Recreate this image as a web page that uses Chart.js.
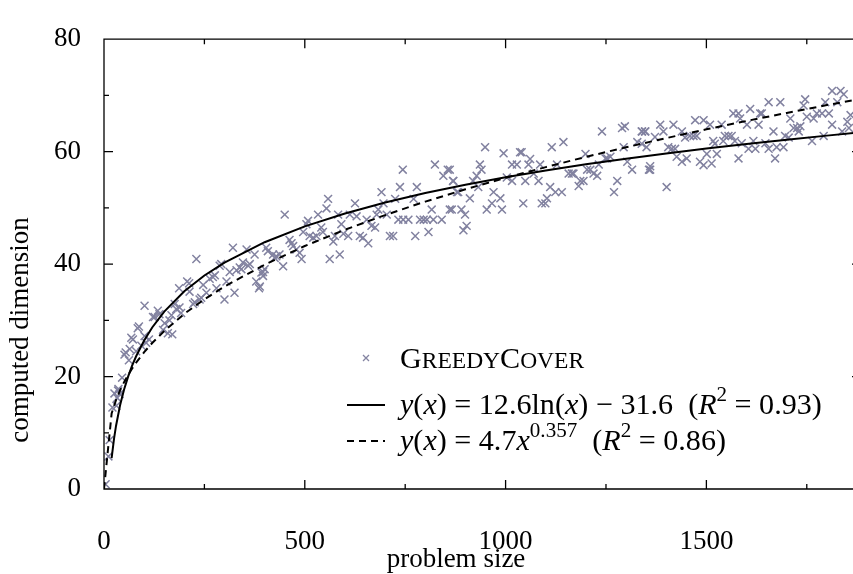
<!DOCTYPE html>
<html><head><meta charset="utf-8">
<script src="https://cdn.jsdelivr.net/npm/chart.js@4.4.1/dist/chart.umd.min.js"></script>
<style>html,body{margin:0;padding:0;overflow:hidden;background:#fff;width:853px;height:574px}canvas{display:block}</style>
</head><body>
<canvas id="c" width="872" height="574"></canvas>
<script>
const greedyX=[4,11,14,21,26,31,33,35,36,39,45,51,54,62,64,68,72,80,84,87,93,101,101,105,112,122,126,134,138,147,151,159,163,168,170,176,180,187,188,192,207,212,213,222,226,230,238,242,247,255,263,271,276,280,288,292,300,305,313,321,325,330,338,342,346,355,359,363,375,379,386,396,400,404,
388,392,396,408,421,425,429,437,446,450,462,467,471,479,487,492,496,504,508,512,521,529,533,541,545,554,558,562,571,575,583,587,591,596,608,612,625,629,637,645,654,658,666,675,679,683,691,696,704,712,720,725,733,737,744,745,758,771,775,779,787,796,804,808,816,820,824,841,845,856,866,870,879,
861,869,861,882,890,899,895,903,911,919,928,936,940,932,949,953,966,970,987,991,995,1003,1016,1028,1016,1036,1040,1049,1057,1061,1044,1070,1082,1086,1090,1099,1103,1111,1115,1128,1124,1140,1144,1157,1165,1169,1182,1186,1194,1199,1203,1211,1219,1228,1232,1249,1253,1261,1270,1278,1240,1290,1297,1294,1303,1315,1328,1340,1348,1357,
1339,1347,1339,1351,1360,1360,1372,1385,1393,1401,1405,1418,1414,1422,1426,1439,1439,1447,1451,1459,1468,1476,1472,1484,1493,1493,1501,1509,1513,1517,1521,1526,1538,1542,1546,1555,1563,1567,1571,1580,1580,1584,1588,1601,1609,1605,1622,1617,1630,1634,1638,1647,1655,1655,1667,1671,1675,1684,1692,1696,1705,1709,1717,1726,1730,1734,1742,1746,1750,1763,1767,1775,1788,1792,1796,1805,1813,1813,1826,1834,1838,1842,1851,1855,1859];
const greedyY=[0.85,5.8,8.7,14.5,17,14.8,16.2,17.5,17.8,16.9,19.8,23.9,24.3,22.9,24.9,26.9,26.6,24.5,28.6,28.9,25.5,27.2,32.6,26,26.6,30.6,30.6,31.7,31.1,28.3,29.5,27.7,30,30.9,27.5,32.9,32,35.7,32.3,31.3,36.9,36.6,35.1,32.9,33.2,40.9,33.7,34,36.3,34.9,37.4,37.7,38,35.7,39.7,40,33.7,36.9,38.6,42.9,34.9,38.9,39.4,39.1,40.3,42.6,39.7,40,41.7,36.9,35.7,38.6,39.1,42.9,
36,38.5,37.9,42.3,41.7,41.1,41.4,41.7,39.6,48.8,44.3,43.7,43.2,42.6,42,40.9,45.7,47.1,47.7,45,44.7,45,48.8,46.5,45.7,49.9,51.6,40.9,44,45,48.8,41.7,47.1,45.4,45,48.8,50.8,48.5,45,44.7,47.9,43.7,46.8,46.5,48.8,49.7,52.8,50.8,48.8,45,45,51.6,47.9,53.7,56.8,47.9,47.9,51.6,45,53.7,47.9,47.9,47.9,45.7,49.7,47.9,57.7,47.9,55.7,56.8,49.7,54.8,52.8,
56.8,54.8,49.7,52.8,49.7,48.8,46,46.8,51.7,54.8,55.7,57.7,56.8,53.7,60.8,49.7,50.8,52.8,51.7,49.7,59.7,55.4,57.7,57.7,54.8,59.9,59.9,54.8,57.7,58.7,50.8,56.1,54.8,57.7,50.8,50.8,51.7,53.7,60.8,57.7,52.8,52.8,61.7,56.1,56.1,56.1,53.9,54.8,54.8,59.6,56.8,56.8,56.1,55.7,57.7,58.8,58.8,59.1,52.8,54.8,63.6,64.2,64.5,60.8,58.2,56.8,61.7,63.6,63.6,56.8,
63.6,63.6,61.4,60.8,57.4,56.8,62.6,64.8,63.6,53.7,60.8,64.8,60.5,60.5,59.1,63.6,58.2,62.5,58.8,62.8,62.8,62.8,65.6,58.2,65.6,57.6,59.6,64.8,57.9,61.9,61.4,59.6,64.8,61.9,62.8,62.8,62.8,66.8,61.9,58.8,66.8,65.9,61.5,64.8,67.6,60.5,60.5,61.9,64.8,66.8,66.8,61.5,68.8,60.5,63.6,58.8,60.8,68.8,60.8,62.8,62.5,65.9,64.2,64.2,63.6,64.5,68.2,69.3,66.2,61.9,65.9,66.8,66.8,62.8,68.8,66.8,70.8,64.8,68.8,70.8,63.6,70.2,65.3,64.2,66.5];

const lnFitX=[19,25,30,40,50,60,70,80,100,120,150,200,250,300,400,500,600,700,800,900,1000,1100,1200,1300,1400,1500,1600,1700,1800,1885];
const lnFitY=[5.5,8.96,11.26,14.88,17.69,19.99,21.93,23.61,26.42,28.73,31.54,35.16,37.97,40.27,43.89,46.71,49.0,50.94,52.63,54.11,55.44,56.64,57.74,58.74,59.68,60.55,61.36,62.12,62.85,63.43];
const powFitX=[0,19,30,40,50,60,70,80,100,120,150,200,250,300,400,500,600,700,800,900,1000,1100,1200,1300,1400,1500,1600,1700,1800,1885];
const powFitY=[0,13.45,15.83,17.54,19.0,20.27,21.42,22.47,24.33,25.96,28.12,31.16,33.74,36.01,39.9,43.22,46.12,48.72,51.12,53.3,55.35,57.25,59.07,60.77,62.41,63.97,65.46,66.89,68.28,69.4];

const xTickLabels=['0','500','1000','1500'];
const yTickLabels=['0','20','40','60','80'];
const axisTitles=['problem size','computed dimension'];
const seriesNames=['GreedyCover','y(x) = 12.6ln(x) − 31.6 (R² = 0.93)','y(x) = 4.7x^0.357 (R² = 0.86)'];
const FAM='"Liberation Serif", "Times New Roman", serif';

const frameTicks={id:'frameTicks',afterDraw(chart){
  const {ctx,chartArea:a,scales:{x,y}}=chart;
  ctx.save();
  ctx.strokeStyle='#000';ctx.lineWidth=1.3;ctx.lineCap='butt';
  ctx.beginPath();
  ctx.moveTo(a.left,a.top);ctx.lineTo(a.right,a.top);ctx.lineTo(a.right,a.bottom);ctx.lineTo(a.left,a.bottom);ctx.closePath();
  x.ticks.forEach(t=>{const p=x.getPixelForValue(t.value);const L=(t.value%500===0)?9:5;
    ctx.moveTo(p,a.bottom);ctx.lineTo(p,a.bottom-L);ctx.moveTo(p,a.top);ctx.lineTo(p,a.top+L);});
  y.ticks.forEach(t=>{const p=y.getPixelForValue(t.value);const L=(t.value%20===0)?9:5;
    ctx.moveTo(a.left,p);ctx.lineTo(a.left+L,p);ctx.moveTo(a.right,p);ctx.lineTo(a.right-L,p);});
  ctx.stroke();
  ctx.fillStyle='#000';ctx.font='27px '+FAM;ctx.textAlign='center';ctx.textBaseline='middle';
  ctx.fillText(axisTitles[0],456,560);
  ctx.save();ctx.translate(21,330);ctx.rotate(-Math.PI/2);ctx.fillText(axisTitles[1],0,0);ctx.restore();
  ctx.restore();
}};

function rich(ctx,segs,x,base,F,draw){
  let cx=x;
  for(const s of segs){
    const size=s.sup?F*0.7:(s.sc?F*0.78:F);
    ctx.font=(s.i?'italic ':'')+size.toFixed(2)+'px '+FAM;
    const dy=s.sup?-F*0.42:0;
    if(draw)ctx.fillText(s.t,cx,base+dy);
    cx+=ctx.measureText(s.t).width;
  }
  return cx-x;
}
const mathLegend={id:'mathLegend',afterDraw(chart){
  const ctx=chart.ctx;
  ctx.save();ctx.fillStyle='#000';ctx.textBaseline='alphabetic';ctx.textAlign='left';
  const r0=[{t:'G'},{t:'REEDY',sc:1},{t:'C'},{t:'OVER',sc:1}];
  const r1=[{t:'y',i:1},{t:'('},{t:'x',i:1},{t:') = 12.6ln('},{t:'x',i:1},{t:') − 31.6  ('},{t:'R',i:1},{t:'2',sup:1},{t:' = 0.93)'}];
  const r2=[{t:'y',i:1},{t:'('},{t:'x',i:1},{t:') = 4.7'},{t:'x',i:1},{t:'0.357',sup:1},{t:'  ('},{t:'R',i:1},{t:'2',sup:1},{t:' = 0.86)'}];
  const w=rich(ctx,r1,0,0,24,false);
  const F=24*422/w;
  const tx=400;
  rich(ctx,r0,tx,368,F,true);
  rich(ctx,r1,tx,414,F,true);
  rich(ctx,r2,tx,450,F,true);
  ctx.strokeStyle='#8484a2';ctx.lineWidth=1.3;
  const mx=366,my=358,h=3;
  ctx.beginPath();ctx.moveTo(mx-h,my-h);ctx.lineTo(mx+h,my+h);ctx.moveTo(mx-h,my+h);ctx.lineTo(mx+h,my-h);ctx.stroke();
  ctx.strokeStyle='#000';ctx.lineWidth=2;
  ctx.beginPath();ctx.moveTo(347,405);ctx.lineTo(385,405);ctx.stroke();
  ctx.setLineDash([7,5]);
  ctx.beginPath();ctx.moveTo(347,441);ctx.lineTo(385,441);ctx.stroke();
  ctx.restore();
}};

const ctx=document.getElementById('c').getContext('2d');
new Chart(ctx,{
  type:'scatter',
  data:{datasets:[
    {type:'line',label:seriesNames[1],data:lnFitX.map((v,i)=>({x:v,y:lnFitY[i]})),borderColor:'#000',borderWidth:2,pointRadius:0,fill:false,tension:0,order:0},
    {type:'line',label:seriesNames[2],data:powFitX.map((v,i)=>({x:v,y:powFitY[i]})),borderColor:'#000',borderWidth:2,borderDash:[7,5],pointRadius:0,fill:false,tension:0,order:0},
    {type:'scatter',label:seriesNames[0],data:greedyX.map((v,i)=>({x:v,y:greedyY[i]})),pointStyle:'crossRot',pointRadius:5.6,borderColor:'#8282a0',backgroundColor:'#8282a0',borderWidth:1.5,order:1}
  ]},
  options:{
    responsive:false,animation:false,devicePixelRatio:1,
    layout:{padding:{top:22,right:11,left:0,bottom:0}},
    plugins:{legend:{display:false},tooltip:{enabled:false}},
    scales:{
      x:{type:'linear',min:0,max:1885,afterFit(s){s.height=85;},
        grid:{display:false,drawTicks:false},border:{display:false},
        ticks:{stepSize:250,includeBounds:false,autoSkip:false,maxRotation:0,padding:37,color:'#000',font:{family:FAM,size:27},
          callback:(v)=>(v%500===0?xTickLabels[v/500]:'')},
        title:{display:false}},
      y:{type:'linear',min:0,max:80,afterFit(s){s.width=104;},
        grid:{display:false,drawTicks:false},border:{display:false},
        ticks:{stepSize:10,autoSkip:false,padding:23,color:'#000',font:{family:FAM,size:27},
          callback:(v)=>(v%20===0?yTickLabels[v/20]:'')},
        title:{display:false}}
    }
  },
  plugins:[frameTicks,mathLegend]
});
</script>
</body></html>
